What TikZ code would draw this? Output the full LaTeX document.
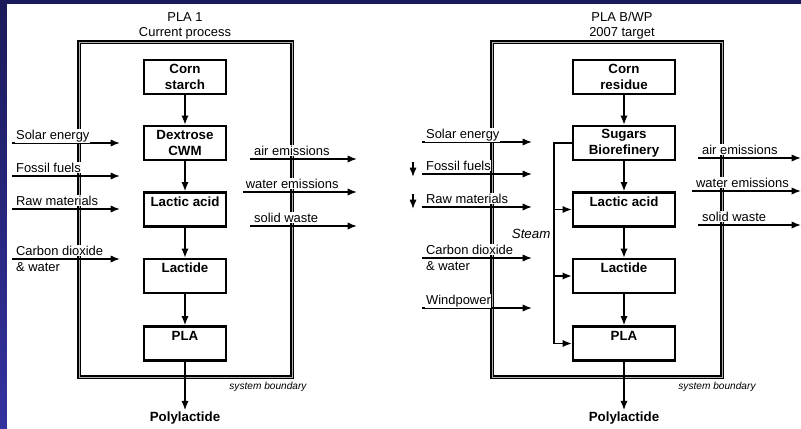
\documentclass[tikz,border=0pt]{standalone}
\usepackage{fontspec}
\setmainfont{Liberation Sans}
\usetikzlibrary{arrows.meta}
\definecolor{bgtop}{RGB}{27,26,90}
\definecolor{bgbot}{RGB}{52,50,160}
\tikzset{
  procbox/.style={draw, line width=1.7pt, align=center, font=\bfseries,
                  minimum width=61.5pt, minimum height=25.5pt, inner sep=1pt},
  widebox/.style={procbox, minimum width=76.5pt},
  flowarrow/.style={-{Latex[length=7pt, width=5.5pt]}, line width=1.2pt},
  plainline/.style={line width=1.2pt},
  boundline/.style={line width=0.9pt, double=gray!60, double distance=0.6pt},
  inlabel/.style={anchor=base west, fill=white, inner xsep=0.5pt, inner ysep=0.5pt,
                  xshift=2pt, yshift=2.8pt},
  belowlabel/.style={anchor=north west, fill=white, inner sep=0.5pt,
                     xshift=2pt, yshift=-1.5pt},
  titlelabel/.style={inner sep=0pt},
  smalllabel/.style={font=\fontsize{7.6}{9}\selectfont\itshape, inner sep=0pt}
}
\begin{document}
\begin{tikzpicture}[x=0.75pt, y=-0.75pt, font=\fontsize{9.7}{11.3}\selectfont]

% --- Background ---
\shade[top color=bgtop, bottom color=bgbot] (0,0) rectangle (801,429);
\fill[white] (7,4) rectangle (801,429);
\useasboundingbox (0,0) rectangle (801,429);

% --- Column positions ---
\def\xa{185}
\def\xb{624}

% ===== PLA 1 (current process) =====
\node[titlelabel] (ttl1) at (\xa,17) {PLA 1};
\node[titlelabel] (sub1) at (\xa,33) {Current process};
\draw[boundline] (79,42) rectangle (292,377);
\node[smalllabel] (sb1) at (268,387) {system boundary};

\node[procbox] (corn1) at (\xa,77)    {Corn\\starch};
\node[procbox] (dex1)  at (\xa,143)   {Dextrose\\CWM};
\node[procbox] (lac1)  at (\xa,209.5) {Lactic acid\\\mbox{}};
\node[procbox] (lct1)  at (\xa,276)   {Lactide\\\mbox{}};
\node[procbox] (pla1)  at (\xa,343.5) {PLA\\\mbox{}};
\node[font=\bfseries, inner sep=1pt] (poly1) at (\xa,418) {Polylactide};

\draw[flowarrow] (corn1) -- (dex1);
\draw[flowarrow] (dex1) -- (lac1);
\draw[flowarrow] (lac1) -- (lct1);
\draw[flowarrow] (lct1) -- (pla1);
\draw[flowarrow] (pla1) -- (poly1);

% inputs
\coordinate (i1a) at (12,143); \coordinate (i1b) at (120,143);
\coordinate (i2a) at (12,176); \coordinate (i2b) at (120,176);
\coordinate (i3a) at (12,209); \coordinate (i3b) at (120,209);
\coordinate (i4a) at (12,259); \coordinate (i4b) at (120,259);
\draw[flowarrow] (i1a) -- (i1b) node[pos=0, inlabel] {Solar energy};
\draw[flowarrow] (i2a) -- (i2b) node[pos=0, inlabel] {Fossil fuels};
\draw[flowarrow] (i3a) -- (i3b) node[pos=0, inlabel] {Raw materials};
\draw[flowarrow] (i4a) -- (i4b) node[pos=0, inlabel] {Carbon dioxide}
                                node[pos=0, belowlabel] {\& water};

% outputs
\coordinate (o1a) at (250,159); \coordinate (o1b) at (357,159);
\coordinate (o2a) at (243,192); \coordinate (o2b) at (357,192);
\coordinate (o3a) at (250,226); \coordinate (o3b) at (357,226);
\draw[flowarrow] (o1a) -- (o1b) node[pos=0, inlabel] {air emissions};
\draw[flowarrow] (o2a) -- (o2b) node[pos=0, inlabel, xshift=-1pt] {water emissions};
\draw[flowarrow] (o3a) -- (o3b) node[pos=0, inlabel] {solid waste};

% ===== PLA B/WP (2007 target) =====
\node[titlelabel] (ttl2) at (622,17) {PLA B/WP};
\node[titlelabel] (sub2) at (622,33) {2007 target};
\draw[boundline] (492,42) rectangle (722,377);
\node[smalllabel] (sb2) at (717,387) {system boundary};

\node[widebox] (corn2) at (\xb,77)    {Corn\\residue};
\node[widebox] (sug2)  at (\xb,143)   {Sugars\\Biorefinery};
\node[widebox] (lac2)  at (\xb,209.5) {Lactic acid\\\mbox{}};
\node[widebox] (lct2)  at (\xb,276)   {Lactide\\\mbox{}};
\node[widebox] (pla2)  at (\xb,343.5) {PLA\\\mbox{}};
\node[font=\bfseries, inner sep=1pt] (poly2) at (\xb,418) {Polylactide};

\draw[flowarrow] (corn2) -- (sug2);
\draw[flowarrow] (sug2) -- (lac2);
\draw[flowarrow] (lac2) -- (lct2);
\draw[flowarrow] (lct2) -- (pla2);
\draw[flowarrow] (pla2) -- (poly2);

% steam line
\coordinate (st0) at (554,143);
\draw[plainline] (sug2.west) -- (st0) -- (pla2.west -| st0);
\draw[flowarrow] (lac2.west -| st0) -- (lac2.west);
\draw[flowarrow] (lct2.west -| st0) -- (lct2.west);
\draw[flowarrow] (pla2.west -| st0) -- (pla2.west);
\node[anchor=east, font=\itshape, inner sep=1pt] (steam) at (552,234) {Steam};

% inputs
\coordinate (j1a) at (422,142); \coordinate (j1b) at (532,142);
\coordinate (j2a) at (422,174); \coordinate (j2b) at (532,174);
\coordinate (j3a) at (422,207); \coordinate (j3b) at (532,207);
\coordinate (j4a) at (422,258); \coordinate (j4b) at (532,258);
\coordinate (j5a) at (422,308); \coordinate (j5b) at (532,308);
\draw[flowarrow] (j1a) -- (j1b) node[pos=0, inlabel] {Solar energy};
\draw[flowarrow] (j2a) -- (j2b) node[pos=0, inlabel] {Fossil fuels};
\draw[flowarrow] (j3a) -- (j3b) node[pos=0, inlabel] {Raw materials};
\draw[flowarrow] (j4a) -- (j4b) node[pos=0, inlabel] {Carbon dioxide}
                                node[pos=0, belowlabel] {\& water};
\draw[flowarrow] (j5a) -- (j5b) node[pos=0, inlabel] {Windpower};

% small down arrows (reduction)
\coordinate (d1a) at (413,162); \coordinate (d1b) at (413,177);
\coordinate (d2a) at (413,194); \coordinate (d2b) at (413,209);
\draw[flowarrow] (d1a) -- (d1b);
\draw[flowarrow] (d2a) -- (d2b);

% outputs
\coordinate (p1a) at (698,158); \coordinate (p1b) at (801,158);
\coordinate (p2a) at (692,191); \coordinate (p2b) at (801,191);
\coordinate (p3a) at (698,225); \coordinate (p3b) at (801,225);
\draw[flowarrow] (p1a) -- (p1b) node[pos=0, inlabel] {air emissions};
\draw[flowarrow] (p2a) -- (p2b) node[pos=0, inlabel] {water emissions};
\draw[flowarrow] (p3a) -- (p3b) node[pos=0, inlabel] {solid waste};

\end{tikzpicture}
\end{document}
